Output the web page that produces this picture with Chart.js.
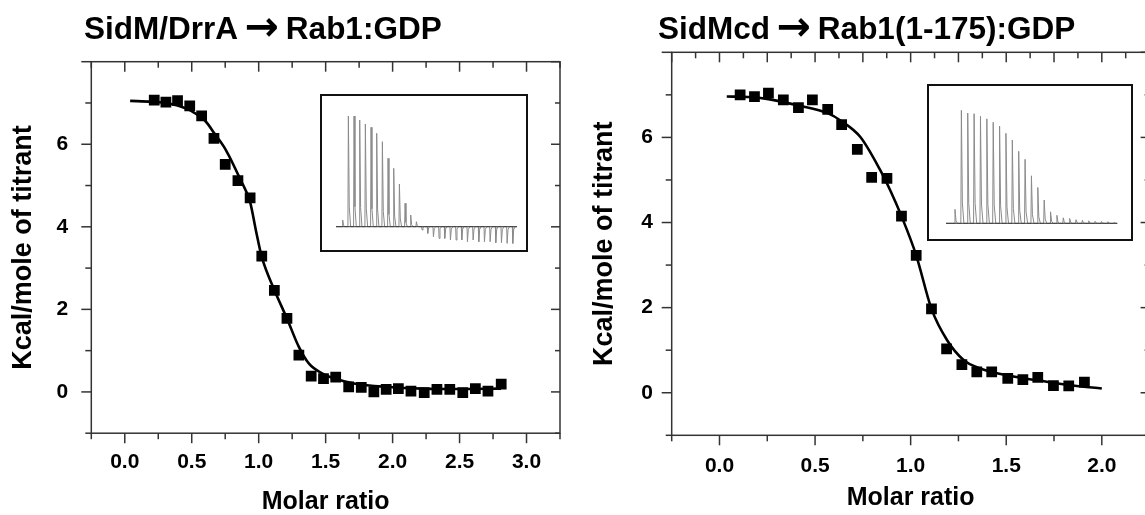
<!DOCTYPE html>
<html><head><meta charset="utf-8">
<script src="https://cdn.jsdelivr.net/npm/chart.js@4.4.1/dist/chart.umd.min.js"></script>
<style>
html,body{margin:0;padding:0;background:#fff;width:1145px;height:515px;overflow:hidden;position:relative;}
.cv{position:absolute;top:0;}
.inset{position:absolute;border:2px solid #111;background:#fff;}
.inset canvas{display:block;}
</style></head><body>
<canvas id="left" class="cv" width="572" height="515" style="left:0px"></canvas>
<canvas id="right" class="cv" width="588" height="515" style="left:572px"></canvas>
<div class="inset" style="left:320px;top:94px;width:204px;height:154px"><canvas id="insetL" width="204" height="154"></canvas></div>
<div class="inset" style="left:927px;top:84px;width:202px;height:153px"><canvas id="insetR" width="202" height="153"></canvas></div>
<script>
// ---------- data ----------
const leftTitle = 'SidM/DrrA \u2192 Rab1:GDP';
const rightTitle = 'SidMcd \u2192 Rab1(1-175):GDP';
const xTitle = 'Molar ratio';
const yTitle = 'Kcal/mole of titrant';

const leftMolarRatio = [0.22,0.307,0.394,0.485,0.574,0.666,0.750,0.845,0.936,1.023,1.117,1.211,1.300,1.392,1.484,1.575,1.672,1.766,1.860,1.952,2.043,2.137,2.236,2.331,2.427,2.524,2.618,2.712,2.811];
const leftHeat = [7.07,7.02,7.06,6.93,6.69,6.14,5.51,5.12,4.70,3.29,2.46,1.78,0.89,0.38,0.32,0.36,0.12,0.11,0.00,0.06,0.08,0.02,-0.02,0.06,0.06,-0.02,0.08,0.02,0.19];
const leftFitX = [0.04,0.2,0.3,0.4,0.5,0.6,0.67,0.755,0.867,0.936,0.98,1.023,1.117,1.211,1.30,1.374,1.473,1.572,1.721,1.968,2.216,2.5,2.81];
const leftFitY = [7.05,7.03,7.0,6.93,6.8,6.57,6.26,5.86,5.12,4.6,3.9,3.27,2.47,1.78,1.09,0.69,0.45,0.32,0.2,0.12,0.08,0.07,0.08];

const rightMolarRatio = [0.108,0.183,0.256,0.334,0.413,0.486,0.566,0.639,0.721,0.796,0.876,0.952,1.029,1.109,1.188,1.268,1.346,1.424,1.508,1.587,1.665,1.747,1.827,1.909];
const rightHeat = [7.00,6.96,7.04,6.88,6.70,6.88,6.66,6.30,5.72,5.06,5.04,4.15,3.23,1.97,1.03,0.66,0.49,0.49,0.34,0.31,0.36,0.17,0.16,0.25];
const rightFitX = [0.038,0.15,0.256,0.413,0.566,0.639,0.737,0.841,0.893,0.952,1.029,1.109,1.19,1.277,1.364,1.538,1.712,1.85,2.0];
const rightFitY = [6.96,6.95,6.9,6.75,6.57,6.38,6.01,5.23,4.76,4.15,3.23,1.97,1.24,0.77,0.57,0.38,0.26,0.17,0.10];

const leftXTicks = [0,0.5,1,1.5,2,2.5,3];
const rightXTicks = [0,0.5,1,1.5,2];
const yTicks = [0,2,4,6];

// raw ITC thermogram peaks (per injection, arbitrary power units)
const leftInsetPeaks = [0.67,11.07,11.07,10.67,10.27,9.94,9.34,8.5,6.84,5.84,4.27,2.34,1.17,0.5,
  -0.33,-0.67,-1.0,-1.17,-1.17,-1.33,-1.33,-1.33,-1.5,-1.33,-1.5,-1.5,-1.5,-1.6,-1.6,-1.67,-1.67];
const rightInsetPeaks = [1.4,11.3,11.03,10.96,10.7,10.45,10.1,9.73,9.0,8.33,7.2,6.4,4.75,3.58,2.33,1.15,0.8,0.55,0.48,0.36,0.3,0.25,0.2,0.18,0.16,0.1];
const leftInsetSpan = [-1.18, 30.74];
const rightInsetSpan = [-1.41, 25.48];

// ---------- helpers ----------
Chart.defaults.font.family = '"Liberation Sans", Arial, sans-serif';
Chart.defaults.color = '#000';
const range = (a, b, s) => { const r = []; for (let v = a; v <= b + 1e-9; v += s) r.push(+v.toFixed(4)); return r; };

const panelTitle = {
  id: 'panelTitle',
  afterDraw(chart, args, o) {
    const c = chart.ctx; c.save();
    c.fillStyle = '#000'; c.textBaseline = 'alphabetic'; c.textAlign = 'left';
    const base = 'bold ' + o.size + 'px "Liberation Sans", Arial, sans-serif';
    const arrowFont = 'bold ' + (o.size * 1.3).toFixed(1) + 'px "DejaVu Sans", sans-serif';
    const parts = o.text.split('\u2192');
    let x = o.x;
    parts.forEach((p, i) => {
      if (i > 0) {
        c.font = arrowFont; c.fillText('\u2192', x - 2, o.y + 1); x += c.measureText('\u2192').width - 4;
      }
      c.font = base; c.fillText(p, x, o.y); x += c.measureText(p).width;
    });
    c.restore();
  }
};

const frameTicks = {
  id: 'frameTicks',
  afterDatasetsDraw(chart, args, o) {
    const {ctx, chartArea: a, scales} = chart;
    const sx = scales.x, sy = scales.y;
    ctx.save();
    ctx.strokeStyle = '#333'; ctx.lineWidth = 1.5; ctx.lineCap = 'butt';
    ctx.strokeRect(a.left, a.top, a.right - a.left, a.bottom - a.top);
    const seg = (x1, y1, x2, y2) => { ctx.beginPath(); ctx.moveTo(x1, y1); ctx.lineTo(x2, y2); ctx.stroke(); };
    o.bottomMajor.forEach(v => { const p = sx.getPixelForValue(v); seg(p, a.bottom, p, a.bottom + 10); });
    o.bottomMinor.forEach(v => { const p = sx.getPixelForValue(v); seg(p, a.bottom, p, a.bottom + 6); });
    o.topMajor.forEach(v => { const p = sx.getPixelForValue(v); seg(p, a.top, p, a.top + 10); });
    o.topMinor.forEach(v => { const p = sx.getPixelForValue(v); seg(p, a.top, p, a.top + 6); });
    o.yMajor.forEach(v => { const p = sy.getPixelForValue(v); seg(a.left, p, a.left - 10, p); seg(a.right, p, a.right - 9, p); });
    o.yMinor.forEach(v => { const p = sy.getPixelForValue(v); seg(a.left, p, a.left - 6, p); seg(a.right, p, a.right - 5, p); });
    ctx.restore();
  }
};

function mainChart(id, o) {
  return new Chart(document.getElementById(id), {
    type: 'scatter',
    data: { datasets: [
      { data: o.px.map((x, i) => ({x, y: o.py[i]})), pointStyle: 'rect', pointRadius: 7.6,
        backgroundColor: '#000', borderWidth: 0, order: 1 },
      { data: o.fx.map((x, i) => ({x, y: o.fy[i]})), showLine: true, borderColor: '#000', borderWidth: 2.6,
        pointRadius: 0, cubicInterpolationMode: 'monotone', order: 2 }
    ]},
    options: {
      responsive: false, animation: false, devicePixelRatio: 1,
      layout: { padding: 0 },
      events: [],
      plugins: {
        legend: { display: false }, tooltip: { enabled: false },
        panelTitle: { text: o.title, x: o.titleX, y: 38.5, size: 31.5 },
        frameTicks: o.frame
      },
      scales: {
        x: {
          type: 'linear', position: 'bottom', min: -0.25, max: o.xMax,
          afterBuildTicks: s => { s.ticks = o.xTicks.map(v => ({value: v})); },
          ticks: { callback: v => Number(v).toFixed(1), padding: o.xTickPad, font: { size: 21, weight: 'bold' }, maxRotation: 0, autoSkip: false, color: '#000' },
          grid: { display: false, drawTicks: false }, border: { display: false },
          title: { display: true, text: xTitle, color: '#000', font: { size: 25, weight: 'bold', lineHeight: 1 }, padding: { top: 0, bottom: o.xTitlePad } },
          afterFit: s => { s.height = o.bottomH; }
        },
        x2: {
          type: 'linear', position: 'top', min: -0.25, max: o.xMax,
          ticks: { display: false }, grid: { display: false, drawTicks: false }, border: { display: false },
          afterFit: s => { s.height = o.topH; }
        },
        y: {
          type: 'linear', position: 'left', min: -1, max: 8,
          afterBuildTicks: s => { s.ticks = yTicks.map(v => ({value: v})); },
          ticks: { callback: v => String(v), padding: o.yTickPad, font: { size: 21, weight: 'bold' }, color: '#000' },
          grid: { display: false, drawTicks: false }, border: { display: false },
          title: { display: true, text: yTitle, color: '#000', font: { size: 27, weight: 'bold', lineHeight: 1 }, padding: { top: o.yTitlePad, bottom: 0 } },
          afterFit: s => { s.width = o.leftW; }
        },
        y2: {
          type: 'linear', position: 'right', min: -1, max: 8,
          ticks: { display: false }, grid: { display: false, drawTicks: false }, border: { display: false },
          afterFit: s => { s.width = o.rightW; }
        }
      }
    },
    plugins: [panelTitle, frameTicks]
  });
}

mainChart('left', {
  px: leftMolarRatio, py: leftHeat, fx: leftFitX, fy: leftFitY,
  title: leftTitle, titleX: 84, xMax: 3.25, xTicks: leftXTicks,
  xTickPad: 16.5, xTitlePad: 0, yTickPad: 23, yTitlePad: 10,
  bottomH: 515 - 433.2, topH: 61.7, leftW: 91.3, rightW: 12,
  frame: { bottomMajor: range(0, 3, 0.5), bottomMinor: range(-0.25, 3.25, 0.5),
           topMajor: range(0, 3, 0.5), topMinor: range(-0.25, 3.25, 0.5),
           yMajor: range(0, 8, 2), yMinor: range(-1, 7, 2) }
});

mainChart('right', {
  px: rightMolarRatio, py: rightHeat, fx: rightFitX, fy: rightFitY,
  title: rightTitle, titleX: 86, xMax: 2.25, xTicks: rightXTicks,
  xTickPad: 18, xTitlePad: 4, yTickPad: 18.7, yTitlePad: 19,
  bottomH: 515 - 435.3, topH: 52.3, leftW: 99.7, rightW: 588 - 577.6,
  frame: { bottomMajor: range(0, 2, 0.5), bottomMinor: range(-0.25, 2.25, 0.5),
           topMajor: range(-0.25, 2.25, 0.25), topMinor: range(-0.125, 2.125, 0.25),
           yMajor: range(0, 8, 2), yMinor: range(-1, 7, 2) }
});

// ---------- insets (raw thermograms) ----------
function tracePoints(peaks, span) {
  const pts = [{x: span[0], y: 0}];
  peaks.forEach((h, i) => {
    pts.push({x: i - 0.08, y: 0}, {x: i, y: h}, {x: i + 0.16, y: h * 0.18}, {x: i + 0.4, y: 0});
  });
  pts.push({x: span[1], y: 0});
  return pts;
}
function insetChart(id, peaks, span, xr, yr) {
  return new Chart(document.getElementById(id), {
    type: 'scatter',
    data: { datasets: [
      { data: [{x: span[0], y: 0}, {x: span[1], y: 0}], showLine: true, borderColor: '#333', borderWidth: 1, pointRadius: 0 },
      { data: tracePoints(peaks, span), showLine: true, borderColor: '#8a8a8a', borderWidth: 1, pointRadius: 0, tension: 0 }
    ]},
    options: {
      responsive: false, animation: false, devicePixelRatio: 1, events: [],
      layout: { padding: 0 },
      plugins: { legend: { display: false }, tooltip: { enabled: false } },
      scales: {
        x: { type: 'linear', display: false, min: xr[0], max: xr[1] },
        y: { type: 'linear', display: false, min: yr[0], max: yr[1] }
      }
    }
  });
}
insetChart('insetL', leftInsetPeaks, leftInsetSpan, [-3.65, 32.33], [-2.33, 13.07]);
insetChart('insetR', rightInsetPeaks, rightInsetSpan, [-4.08, 27.63], [-1.57, 13.73]);
</script>
</body></html>
